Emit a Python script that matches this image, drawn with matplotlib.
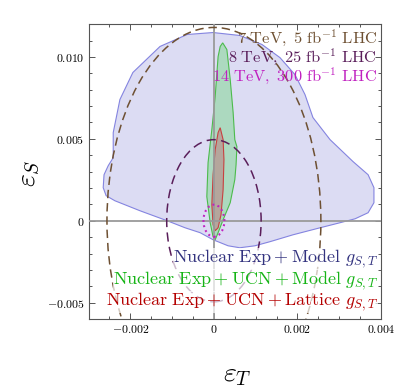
import matplotlib
matplotlib.use('Agg')
import matplotlib.pyplot as plt
from matplotlib.patches import Ellipse
from matplotlib.ticker import FixedLocator, MultipleLocator

plt.rcParams['mathtext.fontset'] = 'cm'
plt.rcParams['font.family'] = ['DejaVu Serif']

# ---- data ----
# Nuclear Exp + Model g_{S,T}  (outline of allowed region)
model_eT = [-0.00002, 0.00062, 0.00115, 0.00158, 0.00194, 0.00218, 0.00237, 0.00278,
            0.00333, 0.00369, 0.00383, 0.00383, 0.00369, 0.00338, 0.00302, 0.00254,
            0.00189, 0.00134, 0.00098, 0.00062, 0.00034, -0.00002, -0.00033, -0.00069,
            -0.00112, -0.00177, -0.00237, -0.00258, -0.00265, -0.00263, -0.00253, -0.00241,
            -0.00241, -0.00225, -0.00194, -0.00129, -0.00064]
model_eS = [0.01149, 0.01131, 0.01076, 0.00996, 0.00892, 0.00770, 0.00630, 0.00495,
            0.00361, 0.00281, 0.00202, 0.00110, 0.00049, 0.00012, -0.00012, -0.00043,
            -0.00086, -0.00128, -0.00153, -0.00165, -0.00153, -0.00116, -0.00073, -0.00043,
            0.00000, 0.00061, 0.00122, 0.00153, 0.00202, 0.00281, 0.00336, 0.00385,
            0.00538, 0.00740, 0.00905, 0.01064, 0.01137]

# Nuclear Exp + UCN + Model g_{S,T}
ucn_model_eT = [0.00021, 0.00031, 0.00039, 0.00046, 0.00050, 0.00055, 0.00053, 0.00050,
                0.00039, 0.00022, 0.00010, 0.00003, -0.00002, -0.00009, -0.00017, -0.00014,
                -0.00005, 0.00003, 0.00010, 0.00015]
ucn_model_eS = [0.01086, 0.01045, 0.00862, 0.00660, 0.00495, 0.00452, 0.00342, 0.00251,
                0.00110, 0.00006, -0.00073, -0.00116, -0.00098, -0.00012, 0.00147, 0.00355,
                0.00556, 0.00758, 0.01002, 0.01064]

# Nuclear Exp + UCN + Lattice g_{S,T}
ucn_lat_eT = [0.00015, 0.00022, 0.00024, 0.00022, 0.00017, 0.00010, 0.00003, -0.00002,
              -0.00005, -0.00002, 0.00003, 0.00010]
ucn_lat_eS = [0.00568, 0.00495, 0.00373, 0.00189, 0.00037, -0.00043, -0.00061, -0.00024,
              0.00098, 0.00281, 0.00434, 0.00538]

# LHC bounds: centre (eT, eS), half-width in eT, half-height in eS
lhc_labels = [r'$\mathrm{7\ TeV,\ 5\ fb^{-1}\ LHC}$',
              r'$\mathrm{8\ TeV,\ 25\ fb^{-1}\ LHC}$',
              r'$\mathrm{14\ TeV,\ 300\ fb^{-1}\ LHC}$']
lhc_center = [(0.0, 0.0), (0.0, 0.0), (0.0, 0.0)]
lhc_half_eT = [0.00256, 0.00113, 0.00025]
lhc_half_eS = [0.0118, 0.00495, 0.00098]

legend_labels = [r'$\mathrm{Nuclear\ Exp + Model}\ g_{S,T}$',
                 r'$\mathrm{Nuclear\ Exp + UCN + Model}\ g_{S,T}$',
                 r'$\mathrm{Nuclear\ Exp + UCN + Lattice}\ g_{S,T}$']

xticks = [-0.002, 0.0, 0.002, 0.004]
xtick_labels = [r'$-0.002$', r'$0$', r'$0.002$', r'$0.004$']
yticks = [-0.005, 0.0, 0.005, 0.010]
ytick_labels = [r'$-0.005$', r'$0$', r'$0.005$', r'$0.010$']

# ---- styles ----
lhc_colors = ['#6e5032', '#5a1e5a', '#c020c0']
lhc_dashes = [(0, (5.5, 3.2)), (0, (6, 3.5)), (0, (0.9, 1.6))]
lhc_widths = [1.1, 1.1, 1.5]
legend_colors = ['#33337f', '#16b416', '#b40000']

fig = plt.figure(figsize=(3.99, 3.90), dpi=100)
ax = fig.add_axes([0.222, 0.182, 0.733, 0.756])

ax.fill(model_eT, model_eS, facecolor='#dcdcf3', edgecolor='#8484e0', lw=0.8, zorder=1)
ax.fill(ucn_model_eT, ucn_model_eS, facecolor='#acd9bf', edgecolor='#4cbb4c', lw=0.8, zorder=2)
ax.fill(ucn_lat_eT, ucn_lat_eS, facecolor='#b5a69c', edgecolor='#c84040', lw=0.8, zorder=3)

ax.axhline(0, color='#9a9a9a', lw=1.3, zorder=3.5)
ax.axvline(0, color='#9a9a9a', lw=1.3, zorder=3.5)

for c, w, h, col, ls, lw in zip(lhc_center, lhc_half_eT, lhc_half_eS, lhc_colors,
                                lhc_dashes, lhc_widths):
    e = Ellipse(c, 2 * w, 2 * h, facecolor='none', edgecolor=col, lw=lw,
                linestyle=ls, zorder=4)
    ax.add_patch(e)

ax.set_xlim(-0.003, 0.004)
ax.set_ylim(-0.006, 0.012)

ax.xaxis.set_major_locator(FixedLocator(xticks))
ax.set_xticklabels(xtick_labels)
ax.yaxis.set_major_locator(FixedLocator(yticks))
ax.set_yticklabels(ytick_labels)
ax.xaxis.set_minor_locator(MultipleLocator(0.0005))
ax.yaxis.set_minor_locator(MultipleLocator(0.001))
ax.tick_params(which='both', direction='in', top=True, right=True, color='#555555',
               width=0.7, labelsize=8.5, pad=3)
ax.tick_params(which='major', length=4.5)
ax.tick_params(which='minor', length=2.5)
for s in ax.spines.values():
    s.set_color('#555555')
    s.set_linewidth(0.8)

for lab, col, y in zip(lhc_labels, lhc_colors, [0.954, 0.889, 0.824]):
    ax.text(0.986, y, lab, transform=ax.transAxes, ha='right', va='center',
            color=col, fontsize=11.8, zorder=6)

for lab, col, y in zip(legend_labels, legend_colors, [0.203, 0.130, 0.057]):
    ax.text(0.99, y, lab, transform=ax.transAxes, ha='right', va='center',
            color=col, fontsize=13.0, zorder=6,
            bbox=dict(facecolor='white', alpha=0.7, edgecolor='none', pad=0))

fig.text(28 / 399, 1 - 173 / 390, r'$\varepsilon_S$', rotation=90, ha='center',
         va='center', fontsize=20)
fig.text(237 / 399, 1 - 375 / 390, r'$\varepsilon_T$', ha='center', va='center',
         fontsize=20)

fig.savefig('out.png', dpi=100)
